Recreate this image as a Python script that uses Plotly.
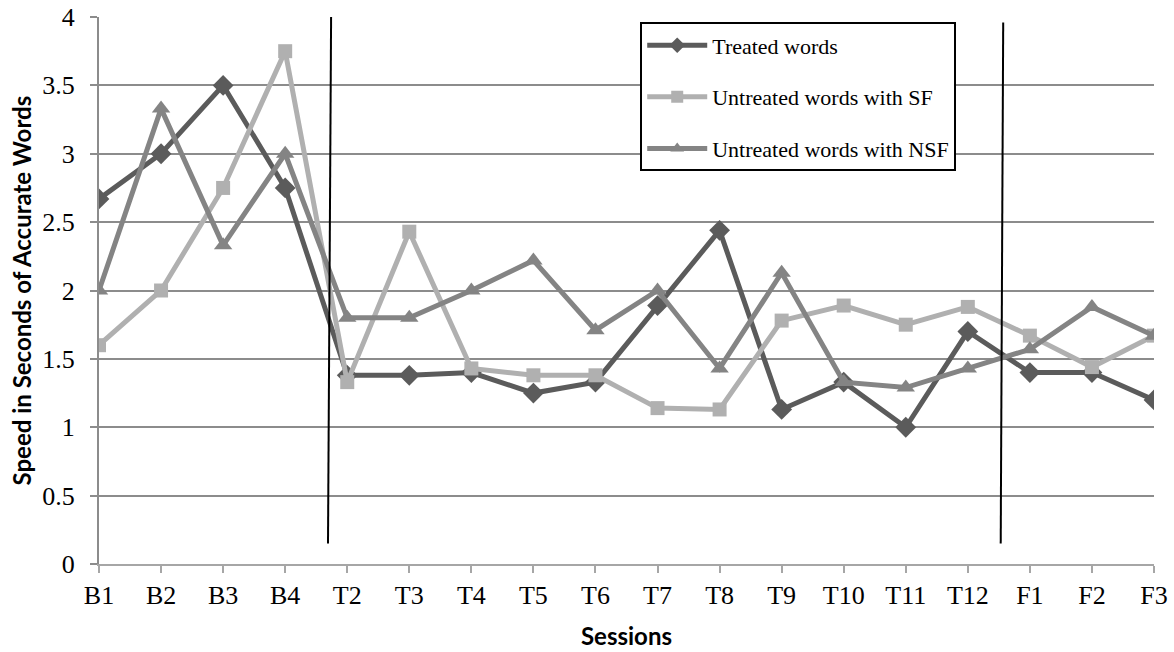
import plotly.graph_objects as go

sessions = ["B1", "B2", "B3", "B4", "T2", "T3", "T4", "T5", "T6", "T7", "T8",
            "T9", "T10", "T11", "T12", "F1", "F2", "F3"]

treated = [2.67, 3.0, 3.5, 2.75, 1.38, 1.38, 1.4, 1.25, 1.33, 1.89, 2.44,
           1.13, 1.33, 1.0, 1.7, 1.4, 1.4, 1.2]
untreated_sf = [1.6, 2.0, 2.75, 3.75, 1.33, 2.43, 1.43, 1.38, 1.38, 1.14, 1.13,
                1.78, 1.89, 1.75, 1.88, 1.67, 1.44, 1.67]
untreated_nsf = [2.0, 3.33, 2.33, 3.0, 1.8, 1.8, 2.0, 2.22, 1.71, 2.0, 1.43,
                 2.13, 1.33, 1.29, 1.43, 1.57, 1.88, 1.67]

x_idx = list(range(len(sessions)))

series = [
    ("Treated words", treated, "#5b5b5b", "diamond", 16),
    ("Untreated words with SF", untreated_sf, "#b0b0b0", "square", 14),
    ("Untreated words with NSF", untreated_nsf, "#848484", "triangle-up", 16),
]

fig = go.Figure()
for i, (name, vals, color, symbol, size) in enumerate(series):
    fig.add_trace(go.Scatter(
        x=x_idx, y=vals, name=name, mode="lines+markers",
        legendgroup=f"g{i}",
        line=dict(color=color, width=5),
        marker=dict(color=color, symbol=symbol, size=size),
    ))

# phase separators: baseline | treatment | follow-up
fig.add_shape(type="line", x0=3.74, y0=4.0, x1=3.69, y1=0.15,
              xref="x", yref="y", line=dict(color="black", width=2), layer="above")
fig.add_shape(type="line", x0=14.57, y0=3.96, x1=14.53, y1=0.15,
              xref="x", yref="y", line=dict(color="black", width=2), layer="above")

serif = "Liberation Serif, Times New Roman, serif"
sans = "Lato, Open Sans, sans-serif"

fig.add_annotation(
    text="<b>Speed in Seconds of Accurate Words</b>",
    xref="paper", yref="paper", x=-0.073, y=0.5,
    xanchor="center", yanchor="middle", textangle=-90, showarrow=False,
    font=dict(family=sans, size=24, color="black"),
)

fig.update_layout(
    width=1174, height=652,
    margin=dict(l=99, r=20, t=17, b=88, autoexpand=False),
    plot_bgcolor="white", paper_bgcolor="white",
    showlegend=True,
    legend=dict(
        x=0.513, y=0.99, xanchor="left", yanchor="top",
        bgcolor="white", bordercolor="black", borderwidth=2,
        font=dict(family=serif, size=22, color="black"),
        tracegroupgap=20, itemwidth=60, itemsizing="constant",
    ),
    xaxis=dict(
        range=[0, 17], tickmode="array", tickvals=x_idx, ticktext=sessions,
        showgrid=False, zeroline=False,
        showline=True, linecolor="#a6a6a6", linewidth=2,
        ticks="outside", ticklen=7, tickcolor="#a6a6a6", tickwidth=2,
        ticklabelstandoff=0,
        tickfont=dict(family=serif, size=26, color="black"),
        title=dict(text="<b>Sessions</b>", font=dict(family=sans, size=24, color="black"),
                   standoff=19),
    ),
    yaxis=dict(
        range=[0, 4], dtick=0.5,
        showgrid=True, gridcolor="#8c8c8c", gridwidth=2,
        zeroline=False,
        showline=True, linecolor="#8c8c8c", linewidth=2,
        ticks="outside", ticklen=7, tickcolor="#8c8c8c", tickwidth=2,
        ticklabelstandoff=10,
        tickfont=dict(family=serif, size=26, color="black"),
    ),
)

fig.write_html("out.html")
